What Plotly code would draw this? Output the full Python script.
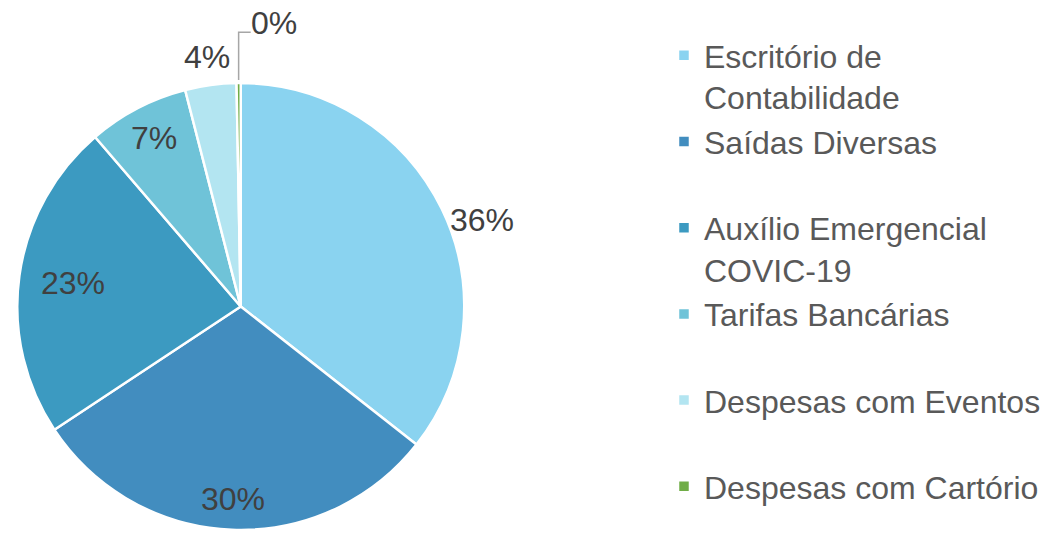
import math
import plotly.graph_objects as go

# ---- data ----
categories = ["Escritório de Contabilidade", "Saídas Diversas", "Auxílio Emergencial COVIC-19",
              "Tarifas Bancárias", "Despesas com Eventos", "Despesas com Cartório"]
legend_text = ["Escritório de<br>Contabilidade", "Saídas Diversas<br> ", "Auxílio Emergencial<br>COVIC-19",
               "Tarifas Bancárias<br> ", "Despesas com Eventos<br> ", "Despesas com Cartório"]
values = [35.6, 30.1, 23.0, 7.3, 3.7, 0.3]
colors = ["#8AD3F0", "#428DBF", "#3C9AC1", "#6FC3D8", "#B3E5F1", "#70AD47"]

# ---- layout / style ----
W, H = 1046, 533
CX, PIE_TOP = 244, 80              # pie centre x and top edge in pixels
R = (H - PIE_TOP) / 2
CY = PIE_TOP + R
label_radius = [1.147, 0.85, 0.76, 0.84, 1.11, 1.26]
label_angle_shift = [6.4, 0, 0, 0, 0, 7.4]
FONT = "Liberation Sans, Arial, sans-serif"
FS = 32

total = sum(values)

fig = go.Figure(go.Pie(
    labels=legend_text,
    values=values,
    sort=False,
    direction="clockwise",
    rotation=0,
    marker=dict(colors=colors, line=dict(color="white", width=2.5)),
    textinfo="none",
    hoverinfo="label+percent",
    domain=dict(x=[(CX - R) / W, (CX + R) / W], y=[0, (H - PIE_TOP) / H]),
))

def to_paper(px, py):
    return px / W, 1 - py / H

annotations = []
shapes = []
cum = 0
for i, v in enumerate(values):
    mid = 360 * (cum + v / 2) / total
    cum += v
    th = math.radians(mid + label_angle_shift[i])
    lx = CX + label_radius[i] * R * math.sin(th)
    ly = CY - label_radius[i] * R * math.cos(th)
    x, y = to_paper(lx, ly)
    annotations.append(dict(x=x, y=y, xref="paper", yref="paper", showarrow=False,
                            text=f"{round(v / total * 100)}%",
                            font=dict(family=FONT, size=FS, color="#404040"),
                            xanchor="center", yanchor="middle"))
    if label_radius[i] > 1.2:  # leader line for detached label
        tm = math.radians(mid)
        ex = CX + R * math.sin(tm)
        ey = CY - R * math.cos(tm)
        elbow_y = ly + 9
        end_x = lx - 24
        p0 = to_paper(ex, ey)
        p1 = to_paper(ex, elbow_y)
        p2 = to_paper(end_x, elbow_y)
        shapes.append(dict(type="path", xref="paper", yref="paper",
                           path=f"M {p0[0]},{p0[1]} L {p1[0]},{p1[1]} L {p2[0]},{p2[1]}",
                           line=dict(color="#A6A6A6", width=1.5)))

fig.update_layout(
    width=W, height=H,
    margin=dict(l=0, r=0, t=0, b=0),
    paper_bgcolor="white", plot_bgcolor="white",
    font=dict(family=FONT, size=FS, color="#595959"),
    annotations=annotations,
    shapes=shapes,
    showlegend=True,
    legend=dict(x=673 / W, xanchor="left", y=1 - 28 / H, yanchor="top",
                valign="top", font=dict(family=FONT, size=FS, color="#595959"),
                bgcolor="rgba(0,0,0,0)", traceorder="normal"),
)

fig.write_html("out.html", config={"displayModeBar": False},
               post_script="document.body.style.margin='0';document.body.style.overflow='hidden';")
